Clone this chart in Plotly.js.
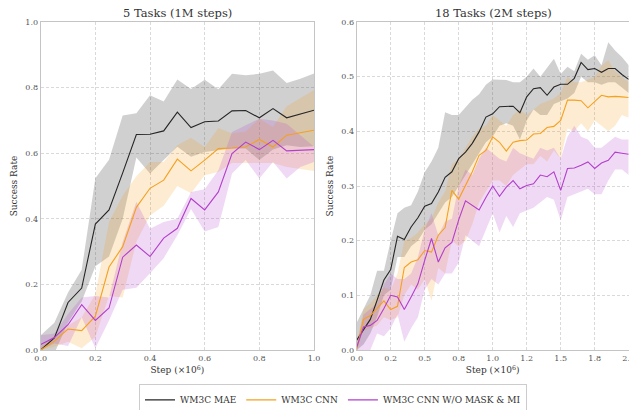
<!DOCTYPE html>
<html><head><meta charset="utf-8">
<script src="https://cdn.plot.ly/plotly-3.0.1.min.js"></script>
<style>html,body{margin:0;padding:0;background:#fff}#chart{width:629px;height:410px}</style>
</head><body><div id="chart"></div>
<script>
// ---------- Left panel: 5 Tasks (1M steps) ----------
const stepsL = [0,0.05,0.1,0.15,0.2,0.25,0.3,0.35,0.4,0.45,0.5,0.55,0.6,0.65,0.7,0.75,0.8,0.85,0.9,0.95,1.0];
const maeL      = [0,0.037,0.145,0.189,0.384,0.427,0.54,0.657,0.658,0.668,0.725,0.678,0.696,0.698,0.729,0.730,0.708,0.736,0.708,0.720,0.731];
const maeUpL    = [0.045,0.083,0.175,0.245,0.524,0.58,0.715,0.722,0.777,0.758,0.825,0.796,0.824,0.795,0.842,0.838,0.842,0.852,0.814,0.827,0.843];
const maeLoL    = [0.0,-0.01,0.083,0.148,0.255,0.285,0.40,0.587,0.538,0.579,0.62,0.589,0.604,0.609,0.614,0.614,0.579,0.611,0.624,0.619,0.621];
const cnnL      = [0,0.027,0.064,0.059,0.103,0.253,0.315,0.435,0.493,0.518,0.582,0.546,0.579,0.614,0.616,0.619,0.642,0.619,0.655,0.662,0.670];
const cnnUpL    = [0.01,0.045,0.075,0.10,0.17,0.39,0.47,0.53,0.573,0.573,0.624,0.647,0.619,0.677,0.66,0.666,0.705,0.68,0.743,0.769,0.793];
const cnnLoL    = [0.0,0.01,0.025,0.005,0.04,0.165,0.16,0.33,0.41,0.44,0.50,0.478,0.533,0.543,0.57,0.57,0.569,0.57,0.558,0.553,0.546];
const woL       = [0.017,0.038,0.077,0.138,0.09,0.128,0.283,0.32,0.285,0.341,0.371,0.462,0.427,0.482,0.599,0.634,0.611,0.639,0.607,0.609,0.611];
const woUpL     = [0.045,0.05,0.11,0.16,0.165,0.16,0.33,0.452,0.37,0.39,0.40,0.482,0.49,0.548,0.665,0.685,0.705,0.70,0.69,0.655,0.62];
const woLoL     = [0.0,0.02,0.012,0.10,0.005,0.09,0.184,0.19,0.234,0.28,0.35,0.43,0.361,0.375,0.538,0.579,0.523,0.573,0.523,0.558,0.573];

// ---------- Right panel: 18 Tasks (2M steps) ----------
const stepsR = [0,0.05,0.1,0.15,0.2,0.25,0.3,0.35,0.4,0.45,0.5,0.55,0.6,0.65,0.7,0.75,0.8,0.85,0.9,0.95,1.0,1.05,1.1,1.15,1.2,1.25,1.3,1.35,1.4,1.45,1.5,1.55,1.6,1.65,1.7,1.75,1.8,1.85,1.9,1.95,2.0];
const maeR   = [0.018,0.037,0.056,0.091,0.128,0.147,0.208,0.202,0.225,0.242,0.263,0.268,0.289,0.316,0.326,0.35,0.362,0.378,0.399,0.426,0.432,0.445,0.446,0.446,0.434,0.463,0.478,0.48,0.466,0.481,0.486,0.486,0.497,0.526,0.513,0.515,0.508,0.515,0.515,0.504,0.495];
const maeUpR = [0.05,0.075,0.10,0.145,0.145,0.20,0.25,0.26,0.265,0.29,0.325,0.345,0.37,0.435,0.43,0.43,0.445,0.458,0.468,0.485,0.495,0.495,0.494,0.49,0.49,0.50,0.515,0.50,0.516,0.533,0.505,0.518,0.51,0.542,0.531,0.539,0.521,0.563,0.548,0.536,0.521];
const maeLoR = [0.0,0.01,0.03,0.06,0.10,0.11,0.17,0.17,0.19,0.20,0.22,0.23,0.25,0.27,0.28,0.30,0.32,0.34,0.36,0.38,0.39,0.41,0.415,0.41,0.385,0.42,0.44,0.43,0.43,0.45,0.455,0.46,0.47,0.50,0.49,0.49,0.485,0.49,0.49,0.48,0.47];
const cnnR   = [0.0,0.056,0.063,0.076,0.09,0.074,0.08,0.151,0.161,0.165,0.182,0.179,0.21,0.224,0.292,0.276,0.301,0.326,0.356,0.365,0.39,0.38,0.364,0.38,0.383,0.384,0.395,0.396,0.407,0.409,0.42,0.457,0.457,0.456,0.443,0.455,0.466,0.463,0.464,0.463,0.462];
const cnnUpR = [0.01,0.075,0.085,0.10,0.115,0.11,0.14,0.20,0.205,0.215,0.23,0.24,0.27,0.29,0.34,0.35,0.37,0.39,0.405,0.41,0.43,0.42,0.41,0.43,0.44,0.43,0.44,0.45,0.455,0.46,0.47,0.50,0.49,0.49,0.495,0.50,0.52,0.53,0.51,0.50,0.49];
const cnnLoR = [0.0,0.035,0.04,0.045,0.06,0.055,0.06,0.10,0.12,0.11,0.13,0.09,0.15,0.14,0.20,0.19,0.20,0.23,0.27,0.29,0.31,0.31,0.30,0.32,0.33,0.34,0.34,0.355,0.345,0.365,0.35,0.405,0.40,0.415,0.40,0.42,0.41,0.40,0.41,0.43,0.425];
const woR    = [0.005,0.042,0.045,0.054,0.076,0.100,0.097,0.074,0.097,0.121,0.164,0.204,0.161,0.187,0.197,0.238,0.273,0.265,0.256,0.279,0.30,0.281,0.298,0.31,0.295,0.301,0.304,0.32,0.317,0.326,0.292,0.332,0.333,0.338,0.344,0.332,0.342,0.347,0.362,0.36,0.358];
const woUpR  = [0.01,0.065,0.075,0.085,0.12,0.14,0.13,0.13,0.14,0.17,0.22,0.25,0.21,0.235,0.24,0.30,0.33,0.32,0.35,0.37,0.36,0.35,0.345,0.37,0.36,0.355,0.35,0.37,0.365,0.37,0.35,0.39,0.41,0.39,0.385,0.37,0.37,0.38,0.39,0.385,0.385];
const woLoR  = [0.0,0.0,0.0,0.03,0.025,0.04,0.065,0.015,0.04,0.06,0.11,0.13,0.12,0.14,0.14,0.16,0.21,0.20,0.19,0.22,0.25,0.215,0.245,0.225,0.25,0.255,0.26,0.27,0.28,0.275,0.237,0.28,0.285,0.29,0.295,0.285,0.285,0.31,0.33,0.33,0.32];

const seriesNames = ['WM3C MAE','WM3C CNN','WM3C CNN W/O MASK & MI'];
const lineColors = ['#262626','#f5a01e','#b23fcc'];
const fillColors = ['rgba(60,60,60,0.24)','rgba(245,160,30,0.2)','rgba(178,63,204,0.2)'];
const xTicksR = [0,0.25,0.5,0.75,1.0,1.25,1.5,1.75,2.0];
const xTextR  = ['0.0','0.2','0.5','0.8','1.0','1.2','1.5','1.8','2.0'];

function band(x, up, lo, color, xa, ya){
  return {x: x.concat(x.slice().reverse()), y: up.concat(lo.slice().reverse()),
    type:'scatter', mode:'lines', fill:'toself', fillcolor:color, line:{width:0},
    hoverinfo:'skip', showlegend:false, xaxis:xa, yaxis:ya};
}
function line(x, y, i, xa, ya, show){
  return {x:x, y:y, type:'scatter', mode:'lines', name:seriesNames[i],
    line:{color:lineColors[i], width:1.1}, showlegend:show, xaxis:xa, yaxis:ya};
}
const traces = [
  band(stepsL, maeUpL, maeLoL, fillColors[0], 'x','y'),
  band(stepsL, cnnUpL, cnnLoL, fillColors[1], 'x','y'),
  band(stepsL, woUpL, woLoL, fillColors[2], 'x','y'),
  band(stepsR, maeUpR, maeLoR, fillColors[0], 'x2','y2'),
  band(stepsR, cnnUpR, cnnLoR, fillColors[1], 'x2','y2'),
  band(stepsR, woUpR, woLoR, fillColors[2], 'x2','y2'),
  line(stepsL, maeL, 0, 'x','y', true),
  line(stepsL, cnnL, 1, 'x','y', true),
  line(stepsL, woL, 2, 'x','y', true),
  line(stepsR, maeR, 0, 'x2','y2', false),
  line(stepsR, cnnR, 1, 'x2','y2', false),
  line(stepsR, woR, 2, 'x2','y2', false)
];

const F = 'DejaVu Serif, serif';
const axBase = {showgrid:true, gridcolor:'#d9d9d9', griddash:'3px,2px', gridwidth:0.8,
  showline:true, mirror:true, linecolor:'#c4c4c4', linewidth:1, zeroline:false, ticks:'',
  ticklabeloverflow:'allow', automargin:false,
  tickfont:{family:F, size:8, color:'#555'}};
const xTitle = {text:'Step (×10<sup>6</sup>)', font:{family:F, size:9, color:'#333'}, standoff:5};
const yTitle = {text:'Success Rate', font:{family:F, size:9, color:'#333'}, standoff:6};
const layout = {
  width:629, height:410, paper_bgcolor:'#fff', plot_bgcolor:'#fff',
  margin:{l:0, r:0, t:21.5, b:59.5, autoexpand:false},
  font:{family:F, color:'#333'},
  xaxis: Object.assign({}, axBase, {domain:[40.7/629, 314/629], range:[0,1], tickvals:[0,0.2,0.4,0.6,0.8,1.0], tickformat:'.1f', title:xTitle}),
  yaxis: Object.assign({}, axBase, {range:[0,1], tickvals:[0,0.2,0.4,0.6,0.8,1.0], tickformat:'.1f', title:yTitle}),
  xaxis2: Object.assign({}, axBase, {domain:[356.7/629, 628.7/629], range:[0,2], anchor:'y2', tickvals:xTicksR, ticktext:xTextR, title:xTitle}),
  yaxis2: Object.assign({}, axBase, {range:[0,0.6], anchor:'x2', tickvals:[0,0.1,0.2,0.3,0.4,0.5,0.6], tickformat:'.1f', title:yTitle}),
  annotations:[
    {text:'5 Tasks (1M steps)', xref:'paper', yref:'paper', x:177/629, xanchor:'center', y:1, yanchor:'bottom', yshift:0, showarrow:false, font:{family:F, size:11.5, color:'#333'}},
    {text:'18 Tasks (2M steps)', xref:'paper', yref:'paper', x:493/629, xanchor:'center', y:1, yanchor:'bottom', yshift:0, showarrow:false, font:{family:F, size:11.5, color:'#333'}}
  ],
  legend:{orientation:'h', x:333/629, xanchor:'center', y:-0.152, yanchor:'middle',
    bordercolor:'#cccccc', borderwidth:1, font:{family:F, size:9, color:'#333'}, itemwidth:30},
  showlegend:true
};
Plotly.newPlot('chart', traces, layout, {displayModeBar:false});
</script></body></html>
